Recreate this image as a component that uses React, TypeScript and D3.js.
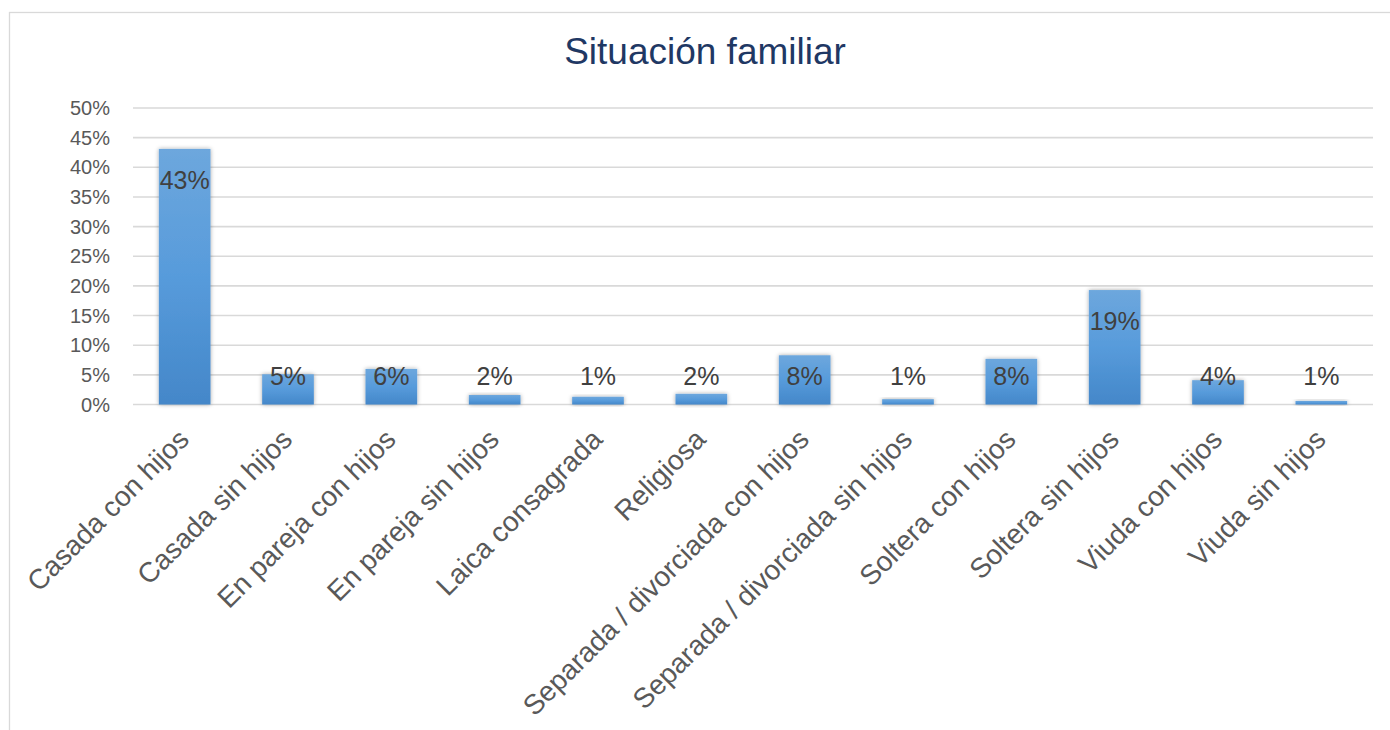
import React from "react";
import * as d3 from "d3";

const categories = [
  "Casada con hijos",
  "Casada sin hijos",
  "En pareja con hijos",
  "En pareja sin hijos",
  "Laica consagrada",
  "Religiosa",
  "Separada / divorciada con hijos",
  "Separada / divorciada sin hijos",
  "Soltera con hijos",
  "Soltera sin hijos",
  "Viuda con hijos",
  "Viuda sin hijos",
];
const values = [0.431, 0.051, 0.06, 0.016, 0.013, 0.018, 0.083, 0.009, 0.077, 0.193, 0.041, 0.006];
const yTicks = [0, 0.05, 0.1, 0.15, 0.2, 0.25, 0.3, 0.35, 0.4, 0.45, 0.5];
const title = "Situación familiar";

const W = 1390;
const H = 730;
const plot = { left: 133, right: 1373, top: 108, bottom: 404.5 };

export default function App() {
  const x = d3
    .scaleBand<string>()
    .domain(categories)
    .range([plot.left, plot.right])
    .paddingInner(0.5)
    .paddingOuter(0.25);
  const y = d3.scaleLinear().domain([0, 0.5]).range([plot.bottom, plot.top]);
  const fmt = d3.format(".0%");
  const font = "'Liberation Sans', Arial, sans-serif";

  return (
    <svg
      width={W}
      height={H}
      style={{ position: "absolute", left: 0, top: 0, background: "#fff" }}
    >
      <defs>
        <linearGradient id="barGrad" x1="0" y1="0" x2="0" y2="1">
          <stop offset="0%" stopColor="#6da7dd" />
          <stop offset="50%" stopColor="#579bdb" />
          <stop offset="100%" stopColor="#4487c9" />
        </linearGradient>
        <filter id="shadow" x="-30%" y="-30%" width="160%" height="160%">
          <feDropShadow dx="0" dy="0" stdDeviation="2.2" floodColor="#000" floodOpacity="0.35" />
        </filter>
      </defs>
      <rect x={9.5} y={12.5} width={1400} height={740} fill="#fff" stroke="#d9d9d9" strokeWidth={1.3} />
      <text
        x={705}
        y={64}
        textAnchor="middle"
        fontFamily={font}
        fontSize={37}
        fill="#1f3864"
      >
        {title}
      </text>
      {yTicks.map((t) => (
        <g key={t}>
          <line
            x1={plot.left}
            x2={plot.right}
            y1={y(t)}
            y2={y(t)}
            stroke="#d9d9d9"
            strokeWidth={1.6}
          />
          <text
            x={110}
            y={y(t)}
            dy="0.35em"
            textAnchor="end"
            fontFamily={font}
            fontSize={20}
            fill="#595959"
          >
            {fmt(t)}
          </text>
        </g>
      ))}
      {categories.map((c, i) => {
        const v = values[i];
        const bx = x(c)!;
        const top = y(v);
        const labelY = Math.min(top + 31, plot.bottom - 28);
        return (
          <g key={c}>
            <rect
              x={bx}
              y={top}
              width={x.bandwidth()}
              height={plot.bottom - top}
              fill="url(#barGrad)"
              filter="url(#shadow)"
            />
            <text
              x={bx + x.bandwidth() / 2}
              y={labelY}
              dy="0.35em"
              textAnchor="middle"
              fontFamily={font}
              fontSize={25}
              fill="#404040"
            >
              {fmt(Math.round(v * 100) / 100)}
            </text>
          </g>
        );
      })}
      {categories.map((c) => {
        const cx = x(c)! + x.bandwidth() / 2;
        return (
          <text
            key={"l" + c}
            transform={`translate(${cx + 6},${441}) rotate(-45)`}
            textAnchor="end"
            fontFamily={font}
            fontSize={28}
            fill="#595959"
          >
            {c}
          </text>
        );
      })}
    </svg>
  );
}
